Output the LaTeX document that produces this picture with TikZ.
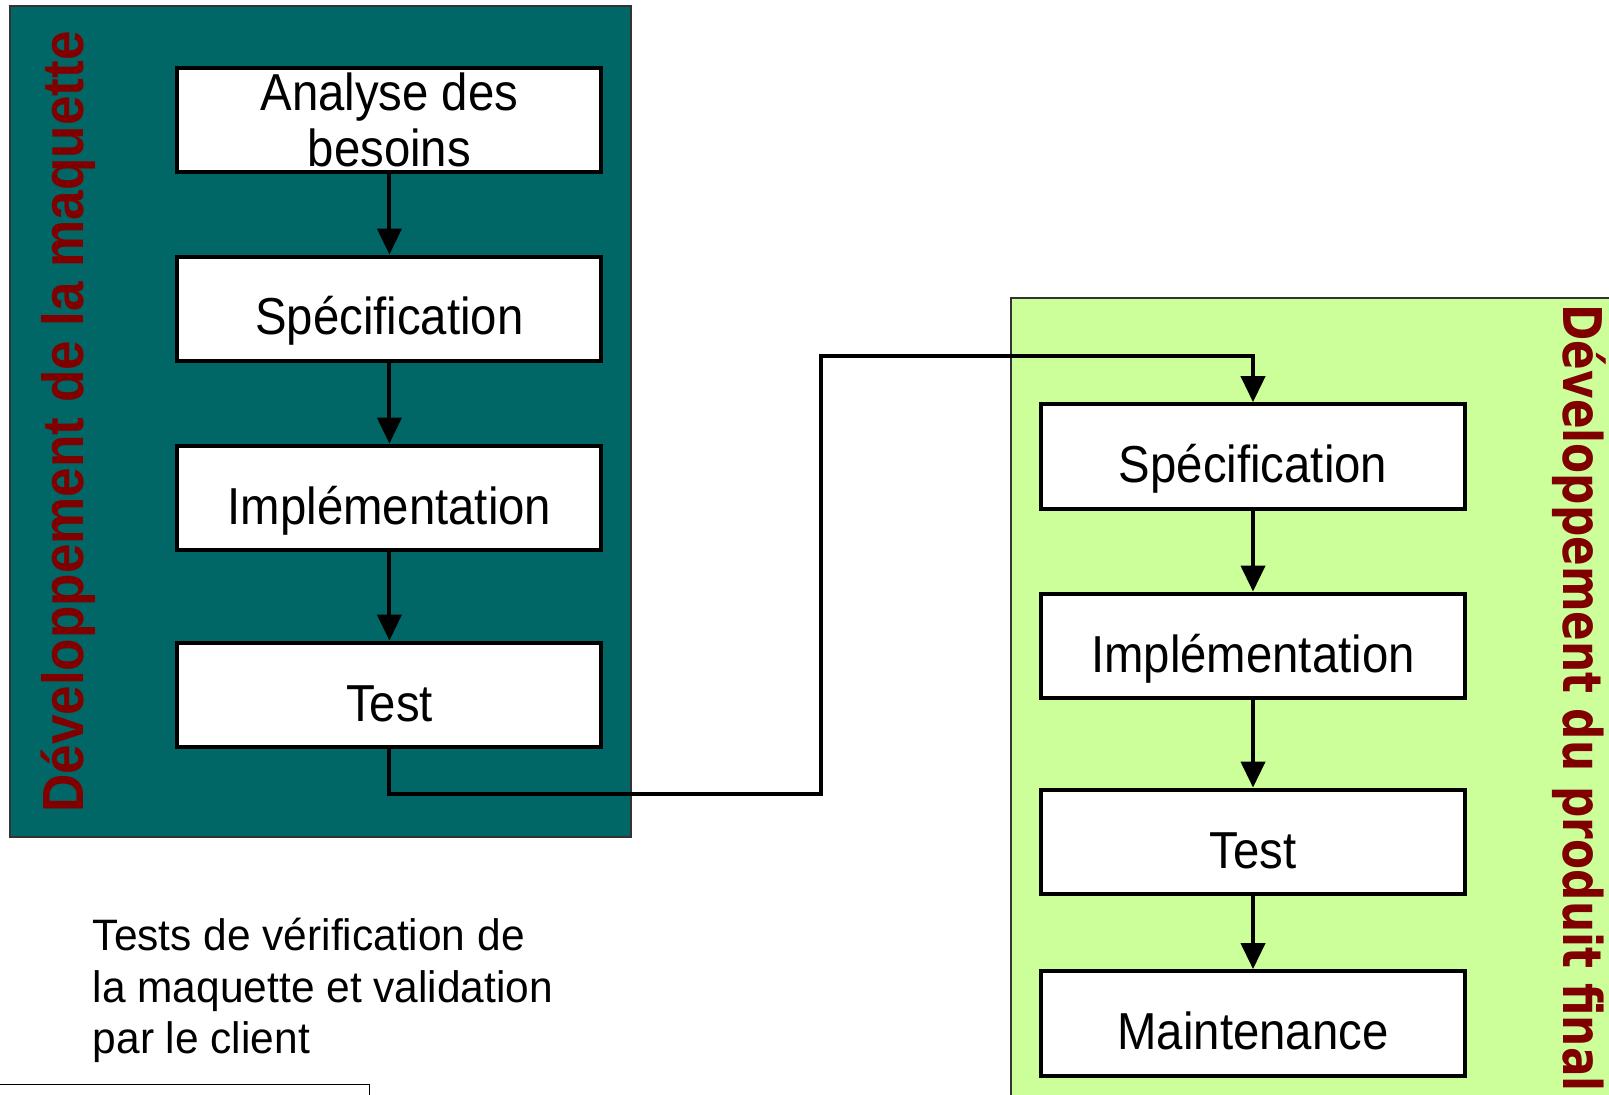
\documentclass[tikz,border=0pt]{standalone}
\usepackage{fontspec}
\setmainfont{Liberation Sans}
\newfontfamily\boxfont[FakeStretch=0.91]{Liberation Sans}
\newfontfamily\notefont[FakeStretch=0.965]{Liberation Sans}
\newfontfamily\titlefont[FakeStretch=0.915]{Liberation Sans}
\newfontfamily\titlefontb[FakeStretch=0.82]{DejaVu Sans}
\usetikzlibrary{arrows.meta}
\definecolor{tealbg}{RGB}{0,102,102}
\definecolor{greenbg}{RGB}{204,255,153}
\definecolor{titlered}{RGB}{128,0,0}
\tikzset{
  stepbox/.style={draw=black, line width=2pt, fill=white, minimum width=212pt,
    minimum height=52.4pt, inner sep=0pt, align=center,
    font=\boxfont\fontsize{26}{27.7}\selectfont},
  oneline/.style={text height=26pt, text depth=0pt},
  flow/.style={line width=2pt, -{Triangle[length=13pt,width=12pt]}},
}
\begin{document}
\begin{tikzpicture}[x=0.5pt,y=-0.5pt]
\useasboundingbox (0,0) rectangle (1609,1095);
\clip (0,0) rectangle (1609,1095);
\fill[white] (0,0) rectangle (1609,1095);

% mock-up phase panel
\draw[fill=tealbg, draw=black!80, line width=0.8pt] (10,6) rectangle (631,837);
\node[rotate=90, text=titlered, font=\titlefont\bfseries\fontsize{29}{30}\selectfont]
  (titleL) at (68,422) {Développement de la maquette};

% final product phase panel
\draw[fill=greenbg, draw=black!80, line width=0.8pt] (1011,298) rectangle (1640,1140);
\node[rotate=-90, text=titlered, font=\titlefontb\bfseries\fontsize{26.7}{28}\selectfont]
  (titleR) at (1579,698) {Développement du produit final};

% mock-up steps
\node[stepbox] (lt1) at (389.4,120) {Analyse des\\besoins};
\node[stepbox, oneline] (lt2) at (389.4,309) {Spécification};
\node[stepbox, oneline] (lt3) at (389.4,498) {Implémentation};
\node[stepbox, oneline] (lt4) at (389.4,695) {Test};

% final product steps
\node[stepbox, oneline] (rt1) at (1253,456.6) {Spécification};
\node[stepbox, oneline] (rt2) at (1253,646) {Implémentation};
\node[stepbox, oneline] (rt3) at (1253,842) {Test};
\node[stepbox, oneline] (rt4) at (1253,1023.5) {Maintenance};

\draw[flow] (lt1) -- (lt2);
\draw[flow] (lt2) -- (lt3);
\draw[flow] (lt3) -- (lt4);
\draw[flow] (rt1) -- (rt2);
\draw[flow] (rt2) -- (rt3);
\draw[flow] (rt3) -- (rt4);

% hand-over from the mock-up to the final product
\coordinate (h1) at (821,794);
\coordinate (h2) at (821,356);
\draw[flow] (lt4.south) |- (h1) -- (h2) -| (rt1.north);

% note
\node[anchor=north west, align=left, inner sep=0pt,
  font=\notefont\fontsize{22}{25.7}\selectfont] (note) at (92.4,918)
  {Tests de vérification de\\la maquette et validation\\par le client};

% partly visible frame at the bottom
\draw[line width=0.8pt] (-10,1084.6) rectangle (369.4,1140);
\end{tikzpicture}
\end{document}
